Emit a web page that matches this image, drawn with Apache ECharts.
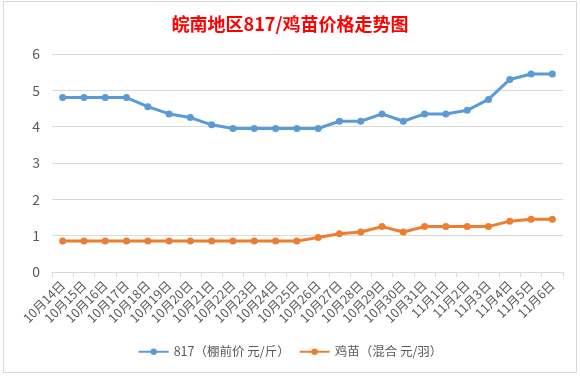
<!DOCTYPE html>
<html>
<head>
<meta charset="utf-8">
<script src="https://cdn.jsdelivr.net/npm/echarts@6/dist/echarts.min.js"></script>
<style>
  html, body { margin: 0; padding: 0; background: #fff; }
  #main { width: 580px; height: 376px; }
</style>
</head>
<body>
<div id="main"></div>
<script>
var dates = ['10月14日','10月15日','10月16日','10月17日','10月18日','10月19日','10月20日','10月21日',
  '10月22日','10月23日','10月24日','10月25日','10月26日','10月27日','10月28日','10月29日','10月30日',
  '10月31日','11月1日','11月2日','11月3日','11月4日','11月5日','11月6日'];
var price817 = [4.8,4.8,4.8,4.8,4.55,4.35,4.25,4.05,3.95,3.95,3.95,3.95,3.95,4.15,4.15,4.35,4.15,4.35,4.35,4.45,4.75,5.3,5.45,5.45];
var chickPrice = [0.85,0.85,0.85,0.85,0.85,0.85,0.85,0.85,0.85,0.85,0.85,0.85,0.95,1.05,1.1,1.25,1.1,1.25,1.25,1.25,1.25,1.4,1.45,1.45];
var seriesNames = ['817（棚前价 元/斤）', '鸡苗（混合 元/羽）'];

(function() {
    var myChart = echarts.init(document.getElementById('main'));
    var font = '"Noto Sans CJK SC", "Microsoft YaHei", sans-serif';
    option = {
        animation: false,
        color: ['#5B9BD5', '#ED7D31'],
        textStyle: { fontFamily: font },
        title: {
            text: '皖南地区817/鸡苗价格走势图',
            left: 'center',
            top: 10,
            textStyle: { color: '#FF0000', fontSize: 18, fontWeight: 'bold', fontFamily: font }
        },
        graphic: [{
            type: 'rect',
            shape: { x: 3.5, y: 1.5, width: 573, height: 371 },
            style: { fill: 'none', stroke: '#d9d9d9', lineWidth: 1 },
            silent: true
        }],
        legend: {
            bottom: 13,
            left: 'center',
            itemWidth: 30,
            itemHeight: 8,
            itemGap: 9,
            textStyle: { color: '#595959', fontSize: 12.5, fontFamily: font },
            data: seriesNames
        },
        grid: { left: 52, right: 17, top: 54, bottom: 104 },
        xAxis: {
            type: 'category',
            data: dates,
            boundaryGap: true,
            axisLine: { lineStyle: { color: '#d9d9d9' } },
            axisTick: { show: true, length: 5, lineStyle: { color: '#d9d9d9' } },
            axisLabel: { rotate: 45, interval: 0, color: '#595959', fontSize: 12.5, margin: 11 }
        },
        yAxis: {
            type: 'value',
            min: 0,
            max: 6,
            interval: 1,
            axisLine: { show: false },
            axisTick: { show: false },
            axisLabel: { color: '#595959', fontSize: 14, margin: 12 },
            splitLine: { lineStyle: { color: '#d9d9d9' } }
        },
        series: [
            {
                name: seriesNames[0],
                type: 'line',
                data: price817,
                symbol: 'circle',
                symbolSize: 7,
                lineStyle: { width: 3 }
            },
            {
                name: seriesNames[1],
                type: 'line',
                data: chickPrice,
                symbol: 'circle',
                symbolSize: 7,
                lineStyle: { width: 3 }
            }
        ]
    };
    myChart.setOption(option);
    window.addEventListener('resize', function() {
        myChart.resize();
    });
})();
</script>
</body>
</html>
